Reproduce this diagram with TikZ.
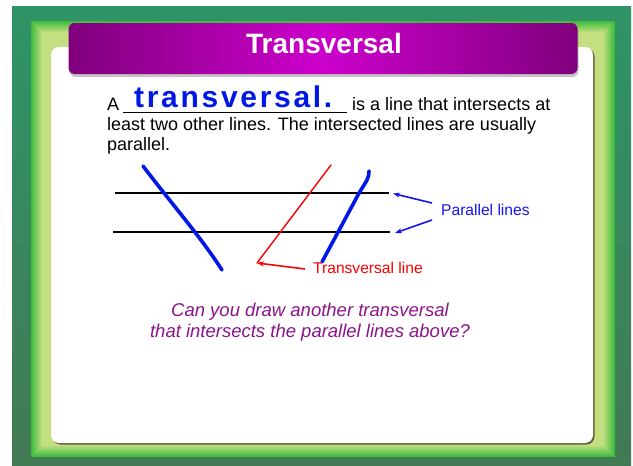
\documentclass[tikz,border=0pt]{standalone}
\usepackage{fontspec}
\setmainfont{Liberation Sans}
\newfontfamily\handfont[LetterSpace=9]{Liberation Sans}
\definecolor{bggreen}{RGB}{46, 148, 103}
\definecolor{bgdark}{RGB}{66, 122, 84}
\definecolor{framelight}{RGB}{196, 222, 130}
\definecolor{framegreen}{RGB}{60, 188, 60}
\definecolor{titlepurple}{RGB}{128, 0, 124}
\definecolor{titlemagenta}{RGB}{204, 0, 204}
\definecolor{askpurple}{RGB}{140, 20, 140}
\definecolor{penblue}{RGB}{0, 24, 230}
\definecolor{labelblue}{RGB}{20, 20, 240}
\definecolor{labelred}{RGB}{250, 0, 0}
\usetikzlibrary{arrows.meta, positioning, calc, shadows}
\tikzset{
    bodytext/.style={anchor=base west, inner sep=0pt, font=\fontsize{18}{21}\selectfont},
    asktext/.style={anchor=base, inner sep=0pt, text=askpurple, font=\fontsize{18.5}{21}\selectfont\itshape},
    labeltext/.style={anchor=west, inner sep=0pt, font=\fontsize{15.6}{18}\selectfont},
    parline/.style={line width=1.8pt, black},
    penline/.style={line width=3.6pt, penblue, line cap=round, line join=round},
    redline/.style={line width=1.4pt, labelred, line cap=round},
    bluearrow/.style={-{Stealth[length=7pt, width=5pt]}, line width=1.6pt, labelblue},
    redarrow/.style={-{Stealth[length=7pt, width=5pt]}, line width=1.6pt, labelred},
}

\begin{document}
\begin{tikzpicture}[x=1pt, y=-1pt]
    \useasboundingbox (0,0) rectangle (633,466);
    % Background
    \fill[white] (0,0) rectangle (633,466);
    \shade[top color=bggreen, bottom color=bgdark] (12,6) rectangle (631,466);

    % Light frame
    \foreach \i in {0,...,11}
        \fill[framelight!\the\numexpr \i*9\relax!framegreen] ($(31,21)+(\i,\i)$) rectangle ($(615,457)-(\i,\i)$);
    \fill[framelight] (43,33) rectangle (603,445);

    % White panel
    \node[draw=none, fill=white, rounded corners=8pt, minimum width=542pt, minimum height=396pt,
          drop shadow={opacity=0.7, fill=black!70!brown, shadow xshift=1.5pt, shadow yshift=-1.5pt}] (panel) at (322,245) {};

    % Title bar
    \node[rounded corners=6pt, minimum width=509pt, minimum height=51pt,
          left color=titlepurple, right color=titlepurple, middle color=titlemagenta,
          drop shadow={opacity=0.45, shadow xshift=1pt, shadow yshift=-3pt}] (titlebar) at (323,48.5) {};
    \node[anchor=base, inner sep=0pt, text=white, font=\fontsize{28}{30}\selectfont\bfseries] (title) at (324,53) {Transversal};

    % Definition text
    \node[bodytext] (defa) at (107,110) {A};
    \coordinate (blankw) at (123,112);
    \coordinate (blanke) at (347,112);
    \draw[line width=0.8pt] (blankw) -- (blanke);
    \node[anchor=base west, inner sep=0pt, text=penblue, font=\handfont\fontsize{30}{32}\selectfont\bfseries] (answer) at (134,107) {transversal.};
    \node[bodytext] (defb) at (352,110) {is a line that intersects at};
    \node[bodytext] (defc) at (107,130) {least two other lines. The intersected lines are usually};
    \node[bodytext] (defd) at (107,150) {parallel.};

    % Parallel lines
    \coordinate (topw) at (115,193);
    \coordinate (tope) at (389,193);
    \coordinate (botw) at (113,232);
    \coordinate (bote) at (390,232);
    \draw[parline] (topw) -- (tope);
    \draw[parline] (botw) -- (bote);

    % Hand-drawn transversals
    \coordinate (pena) at (143,166);
    \coordinate (penb) at (222,270);
    \coordinate (penc) at (369,171);
    \coordinate (pend) at (322,262);
    \draw[penline] (pena) .. controls (175,208) and (200,236) .. (penb);
    \draw[penline] (pend) -- (358,195) .. controls (364,184) and (369,180) .. (penc);

    % Red transversal
    \coordinate (redtop) at (331,165);
    \coordinate (redbot) at (257,263);
    \draw[redline] (redtop) -- (redbot);

    % Labels
    \node[labeltext, text=labelblue] (parlabel) at (441,210) {Parallel lines};
    \node[labeltext, text=labelred] (translabel) at (313,268) {Transversal line};
    \draw[bluearrow] ([shift={(-9,-7)}]parlabel.west) -- (393,193.5);
    \draw[bluearrow] ([shift={(-9,10)}]parlabel.west) -- (395,233);
    \draw[redarrow] ([shift={(-8,1)}]translabel.west) -- (redbot);

    % Question
    \node[asktext] (askone) at (310,316) {Can you draw another transversal};
    \node[asktext] (asktwo) at (310,337) {that intersects the parallel lines above?};
\end{tikzpicture}
\end{document}
